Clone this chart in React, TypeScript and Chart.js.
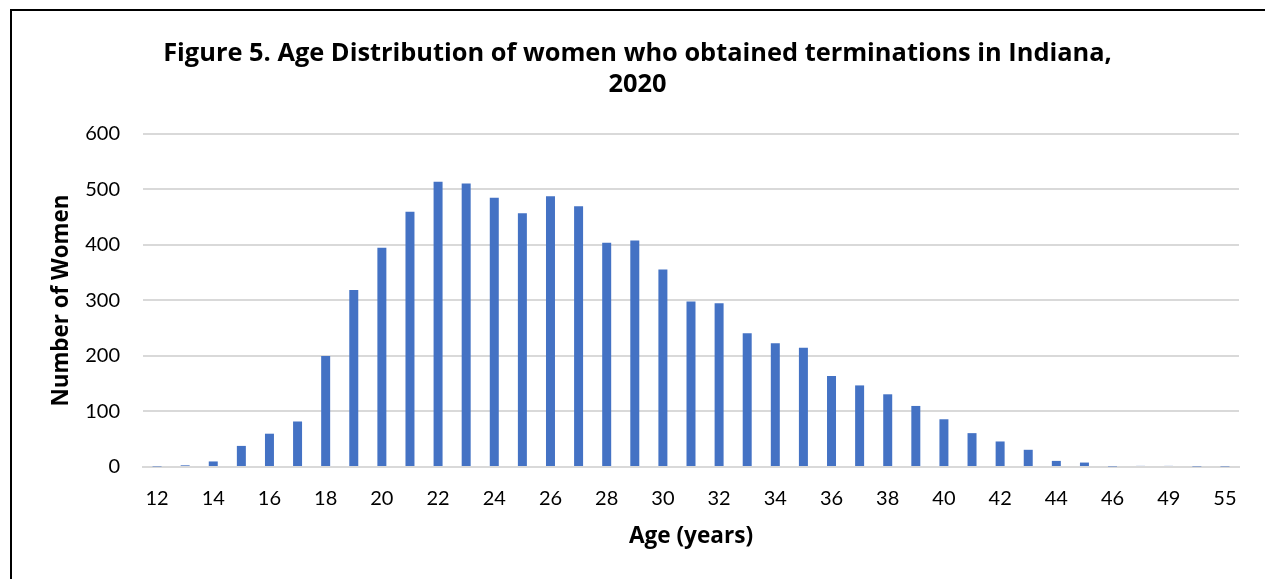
import React, { useEffect, useRef } from "react";
import { Chart, registerables } from "chart.js";

Chart.register(...registerables);

const ages = [
  "12", "13", "14", "15", "16", "17", "18", "19", "20", "21", "22", "23", "24",
  "25", "26", "27", "28", "29", "30", "31", "32", "33", "34", "35", "36", "37",
  "38", "39", "40", "41", "42", "43", "44", "45", "46", "48", "49", "51", "55",
];
const women = [
  1, 3, 10, 38, 60, 82, 200, 319, 395, 460, 514, 511, 485,
  457, 488, 470, 404, 408, 356, 298, 295, 241, 223, 215, 164, 147,
  131, 110, 86, 61, 46, 31, 11, 8, 1, 2, 2, 1, 1,
];
const yTicks = [0, 100, 200, 300, 400, 500, 600];

const titleLines = [
  "Figure 5. Age Distribution of women who obtained terminations in Indiana,",
  "2020",
];

export default function App() {
  const ref = useRef<HTMLCanvasElement | null>(null);
  useEffect(() => {
    if (!ref.current) return;
    const chart = new Chart(ref.current, {
      type: "bar",
      data: {
        labels: ages,
        datasets: [
          {
            label: "Number of Women",
            data: women,
            backgroundColor: "#4472c4",
            borderWidth: 0,
            barPercentage: 0.32,
            categoryPercentage: 1,
          },
        ],
      },
      options: {
        animation: false,
        responsive: false,
        maintainAspectRatio: false,
        layout: { padding: { left: 24, right: 26, top: 0, bottom: 0 } },
        plugins: {
          legend: { display: false },
          tooltip: { enabled: false },
          title: {
            display: true,
            text: titleLines,
            color: "#000",
            font: { family: "'Open Sans'", size: 25.4, weight: "bold", lineHeight: 1.23 },
            padding: { top: 27, bottom: 33.5 },
          },
        },
        scales: {
          x: {
            grid: { display: false, drawTicks: false },
            border: { display: true, color: "#d9d9d9", width: 2 },
            ticks: {
              autoSkip: false,
              maxRotation: 0,
              minRotation: 0,
              padding: 20,
              color: "#000",
              font: { family: "Lato", size: 20 },
              callback: (_v: any, i: number) => (i % 2 === 0 ? ages[i] : ""),
            },
            title: {
              display: true,
              text: "Age (years)",
              color: "#000",
              font: { family: "'Open Sans'", size: 22.6, weight: "bold", lineHeight: 1.2 },
              padding: { top: 0, bottom: 28.5 },
            },
            afterFit: (s: any) => {
              s.height = 112;
            },
          },
          y: {
            min: 0,
            max: 600,
            afterBuildTicks: (s: any) => {
              s.ticks = yTicks.map((v) => ({ value: v }));
            },
            grid: { color: "#d9d9d9", lineWidth: 2, drawTicks: false },
            border: { display: false },
            ticks: {
              padding: 23,
              color: "#000",
              font: { family: "Lato", size: 20 },
            },
            title: {
              display: true,
              text: "Number of Women",
              color: "#000",
              font: { family: "'Open Sans'", size: 22.4, weight: "bold", lineHeight: 1.2 },
              padding: { top: 12.6, bottom: 0 },
            },
            afterFit: (s: any) => {
              s.width = 107;
            },
          },
        },
      },
    });
    return () => chart.destroy();
  }, []);

  return (
    <div
      style={{
        position: "fixed",
        left: 0,
        top: 0,
        width: 1265,
        height: 579,
        overflow: "hidden",
        background: "#fff",
      }}
    >
      <div
        style={{
          position: "absolute",
          left: 10,
          top: 9,
          width: 1270,
          height: 600,
          borderLeft: "2px solid #000",
          borderTop: "2px solid #000",
        }}
      />
      <canvas
        ref={ref}
        width={1253}
        height={568}
        style={{ position: "absolute", left: 12, top: 11, width: 1253, height: 568 }}
      />
    </div>
  );
}
